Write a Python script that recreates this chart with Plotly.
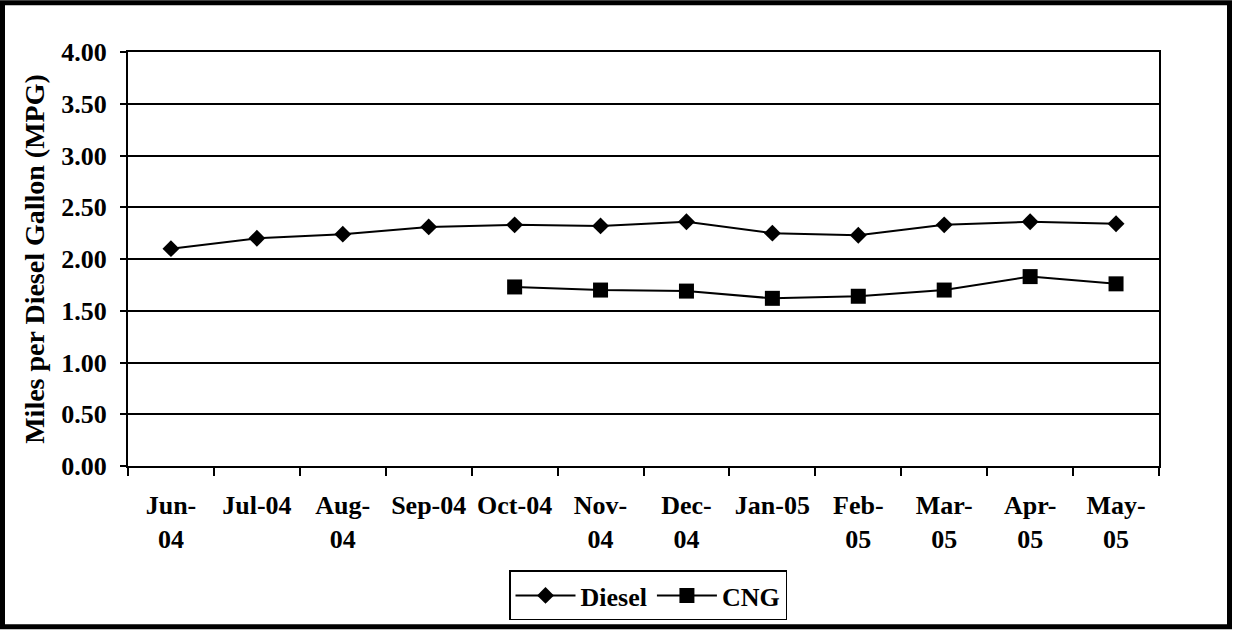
import plotly.graph_objects as go

months = ["Jun-04", "Jul-04", "Aug-04", "Sep-04", "Oct-04", "Nov-04",
          "Dec-04", "Jan-05", "Feb-05", "Mar-05", "Apr-05", "May-05"]
tick_labels = ["Jun-<br>04", "Jul-04", "Aug-<br>04", "Sep-04", "Oct-04", "Nov-<br>04",
               "Dec-<br>04", "Jan-05", "Feb-<br>05", "Mar-<br>05", "Apr-<br>05", "May-<br>05"]
diesel = [2.10, 2.20, 2.24, 2.31, 2.33, 2.32, 2.36, 2.25, 2.23, 2.33, 2.36, 2.34]
cng = [None, None, None, None, 1.73, 1.70, 1.69, 1.62, 1.64, 1.70, 1.83, 1.76]
y_ticks = [0, 0.5, 1.0, 1.5, 2.0, 2.5, 3.0, 3.5, 4.0]

FONT = "Liberation Serif"
FS = 26

fig = go.Figure()
fig.add_trace(go.Scatter(
    x=months, y=diesel, name="Diesel", mode="lines+markers",
    line=dict(color="black", width=2),
    marker=dict(symbol="diamond", size=13, color="black"),
))
fig.add_trace(go.Scatter(
    x=months, y=cng, name="CNG", mode="lines+markers",
    line=dict(color="black", width=2),
    marker=dict(symbol="square", size=15, color="black"),
))

W, H = 1233, 632
L, R, T, B = 128, 74, 52, 164
pw, ph = W - L - R, H - T - B

def px_x(p):
    return (p - L) / pw

def px_y(p):
    return (H - B - p) / ph

fnt = dict(family=FONT, size=FS, color="black", weight="bold")

fig.update_layout(
    width=W, height=H,
    margin=dict(l=L, r=R, t=T, b=B),
    paper_bgcolor="white", plot_bgcolor="white",
    font=fnt,
    showlegend=True,
    legend=dict(
        orientation="h", x=px_x(648), y=px_y(573),
        xanchor="center", yanchor="top",
        bordercolor="black", borderwidth=1.5,
        font=fnt,
        itemwidth=60,
    ),
    xaxis=dict(
        type="category", range=[-0.5, len(months) - 0.5],
        tickmode="array", tickvals=months, ticktext=tick_labels,
        tickson="boundaries", ticks="outside", ticklen=8, tickwidth=2,
        tickcolor="black", tickangle=0,
        showline=True, linecolor="black", linewidth=2, mirror=True,
        showgrid=False, zeroline=False,
        tickfont=fnt,
        ticklabelstandoff=15,
    ),
    yaxis=dict(
        range=[0, 4], tickmode="array", tickvals=y_ticks,
        ticktext=[f"{v:.2f}" for v in y_ticks],
        ticks="outside", ticklen=6, tickwidth=2, tickcolor="black",
        showline=True, linecolor="black", linewidth=2, mirror=True,
        showgrid=True, gridcolor="black", gridwidth=2, zeroline=False,
        tickfont=fnt,
        ticklabelstandoff=8,
        title=dict(text="Miles per Diesel Gallon (MPG)", standoff=8,
                   font=dict(family=FONT, size=28, color="black", weight="bold")),
    ),
    shapes=[dict(
        type="rect", xref="paper", yref="paper",
        x0=px_x(2.5), x1=px_x(1229.5), y0=px_y(629.5), y1=px_y(2.5),
        line=dict(color="black", width=5), fillcolor="rgba(0,0,0,0)",
        layer="above",
    )],
)

fig.write_html("out.html", config={"displayModeBar": False},
               post_script="document.body.style.margin='0';")
